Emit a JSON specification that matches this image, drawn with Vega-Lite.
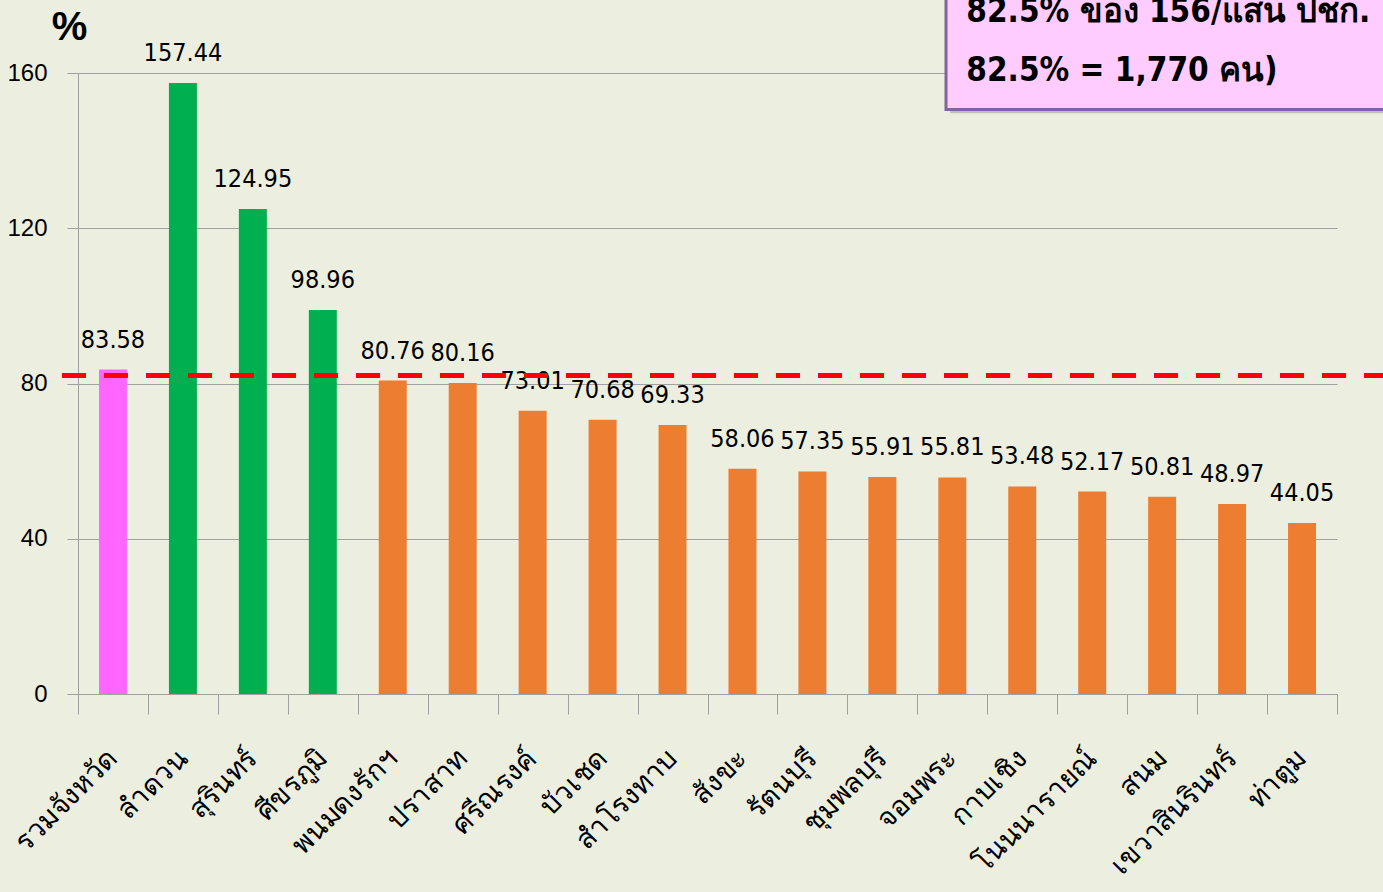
{
  "$schema": "https://vega.github.io/schema/vega-lite/v6.json",
  "width": 1259,
  "height": 621,
  "autosize": {"type": "none"},
  "padding": {"left": 78, "top": 73, "right": 46, "bottom": 198},
  "background": "#ECEFDF",
  "config": {
    "view": {"stroke": null},
    "font": "Liberation Sans"
  },
  "datasets": {
    "bars": [
      {"amphoe": "รวมจังหวัด", "value": 83.58, "group": "total"},
      {"amphoe": "ลำดวน", "value": 157.44, "group": "high"},
      {"amphoe": "สุรินทร์", "value": 124.95, "group": "high"},
      {"amphoe": "ศีขรภูมิ", "value": 98.96, "group": "high"},
      {"amphoe": "พนมดงรักฯ", "value": 80.76, "group": "low"},
      {"amphoe": "ปราสาท", "value": 80.16, "group": "low"},
      {"amphoe": "ศรีณรงค์", "value": 73.01, "group": "low"},
      {"amphoe": "บัวเชด", "value": 70.68, "group": "low"},
      {"amphoe": "สำโรงทาบ", "value": 69.33, "group": "low"},
      {"amphoe": "สังขะ", "value": 58.06, "group": "low"},
      {"amphoe": "รัตนบุรี", "value": 57.35, "group": "low"},
      {"amphoe": "ชุมพลบุรี", "value": 55.91, "group": "low"},
      {"amphoe": "จอมพระ", "value": 55.81, "group": "low"},
      {"amphoe": "กาบเชิง", "value": 53.48, "group": "low"},
      {"amphoe": "โนนนารายณ์", "value": 52.17, "group": "low"},
      {"amphoe": "สนม", "value": 50.81, "group": "low"},
      {"amphoe": "เขวาสินรินทร์", "value": 48.97, "group": "low"},
      {"amphoe": "ท่าตูม", "value": 44.05, "group": "low"}
    ],
    "box": [{"x1": 12.41, "x2": 19.5, "y1": 150.6, "y2": 186.6, "sx1": 12.47, "sy1": 149.6}],
    "boxtext": [
      {"tx": 12.70, "ty": 175.8, "label": "82.5% ของ 156/แสน ปชก."},
      {"tx": 12.70, "ty": 160.4, "label": "82.5% = 1,770 คน)"}
    ],
    "target": [{"x1": -0.229, "x2": 19.5, "y": 82.06}]
  },
  "layer": [
    {
      "layer": [
        {
          "data": {"name": "box"},
          "mark": {"type": "rect", "color": "#9A9A90", "opacity": 0.55},
          "encoding": {
            "x": {"field": "sx1", "type": "quantitative", "scale": {"domain": [0, 18], "nice": false, "zero": false}, "axis": null},
            "x2": {"field": "x2"},
            "y": {"field": "sy1", "type": "quantitative"},
            "y2": {"field": "y2"}
          }
        },
        {
          "data": {"name": "box"},
          "mark": {"type": "rect", "fill": "#FFCCFF", "stroke": "#8064A2", "strokeWidth": 3},
          "encoding": {
            "x": {"field": "x1", "type": "quantitative", "scale": {"domain": [0, 18], "nice": false, "zero": false}, "axis": null},
            "x2": {"field": "x2"},
            "y": {"field": "y1", "type": "quantitative"},
            "y2": {"field": "y2"}
          }
        },
        {
          "data": {"name": "boxtext"},
          "mark": {"type": "text", "align": "left", "baseline": "middle", "fontSize": 33, "fontWeight": "bold", "font": "DejaVu Sans Condensed, Liberation Sans", "color": "#000000"},
          "encoding": {
            "x": {"field": "tx", "type": "quantitative", "scale": {"domain": [0, 18], "nice": false, "zero": false}, "axis": null},
            "y": {"field": "ty", "type": "quantitative"},
            "text": {"field": "label"}
          }
        }
      ]
    },
    {
      "data": {"name": "bars"},
      "layer": [
        {
          "mark": {"type": "bar", "width": {"band": 0.4}},
          "encoding": {
            "x": {
              "field": "amphoe", "type": "nominal", "sort": null,
              "scale": {"paddingInner": 0, "paddingOuter": 0},
              "axis": {
                "title": null,
                "tickBand": "extent",
                "tickSize": 20,
                "tickColor": "#A0A0A0",
                "domainColor": "#A0A0A0",
                "labelAngle": -45,
                "labelAlign": "right",
                "labelBaseline": "middle",
                "labelPadding": 40,
                "labelFontSize": 28,
                "labelColor": "#000000",
                "labelFont": "Noto Sans"
              }
            },
            "y": {
              "field": "value", "type": "quantitative",
              "scale": {"domain": [0, 160], "nice": false},
              "axis": {
                "values": [0, 40, 80, 120, 160],
                "title": "%",
                "titleAngle": 0,
                "titleX": -9,
                "titleY": -46,
                "titleAlign": "center",
                "titleBaseline": "middle",
                "titleFontSize": 40,
                "titleFontWeight": "bold",
                "titleColor": "#000000",
                "grid": true,
                "gridColor": "#A0A0A0",
                "domainColor": "#A0A0A0",
                "tickColor": "#A0A0A0",
                "tickSize": 11,
                "labelPadding": 20,
                "labelFontSize": 24,
                "labelColor": "#000000"
              }
            },
            "color": {
              "field": "group", "type": "nominal",
              "scale": {"domain": ["total", "high", "low"], "range": ["#FF66FF", "#00B050", "#ED7D31"]},
              "legend": null
            }
          }
        },
        {
          "mark": {"type": "text", "baseline": "alphabetic", "dy": -22, "fontSize": 25, "font": "DejaVu Sans Condensed, Liberation Sans Narrow, Liberation Sans", "color": "#000000"},
          "encoding": {
            "x": {"field": "amphoe", "type": "nominal", "sort": null},
            "y": {"field": "value", "type": "quantitative"},
            "text": {"field": "value", "type": "quantitative", "format": ".2f"}
          }
        }
      ]
    },
    {
      "data": {"name": "target"},
      "mark": {"type": "rule", "color": "#FF0000", "strokeWidth": 5, "strokeDash": [24, 18]},
      "encoding": {
        "x": {"field": "x1", "type": "quantitative", "scale": {"domain": [0, 18], "nice": false, "zero": false}, "axis": null},
        "x2": {"field": "x2"},
        "y": {"field": "y", "type": "quantitative"}
      }
    }
  ],
  "resolve": {"scale": {"x": "independent"}}
}
